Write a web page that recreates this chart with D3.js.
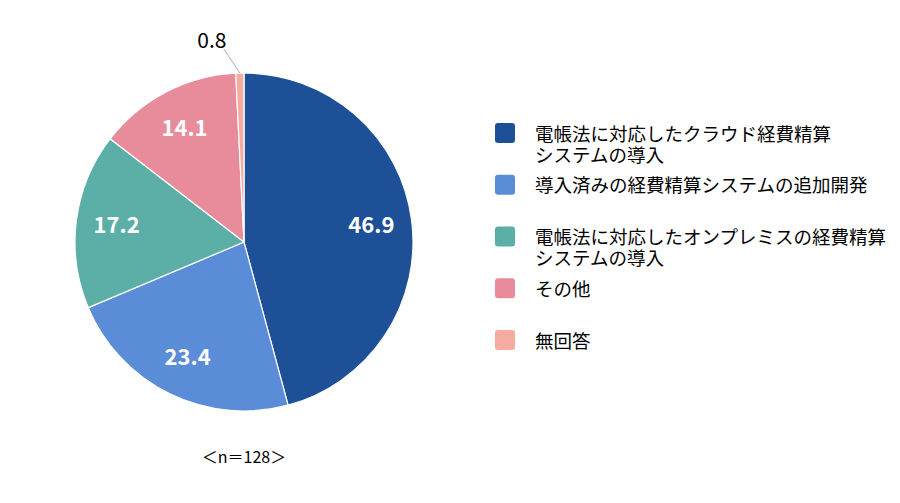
<!DOCTYPE html>
<html>
<head>
<meta charset="utf-8">
<script src="https://cdn.jsdelivr.net/npm/d3@7"></script>
<style>
	body { margin: 0; background: #fff; }
	text { font-family: "Noto Sans CJK JP", "Noto Sans", sans-serif; }
</style>
</head>
<body>
<svg width="900" height="503"></svg>
<script>
// answers (%), n=128
var categories = [
	['電帳法に対応したクラウド経費精算', 'システムの導入'],
	['導入済みの経費精算システムの追加開発'],
	['電帳法に対応したオンプレミスの経費精算', 'システムの導入'],
	['その他'],
	['無回答']
];
var values = [46.9, 23.4, 17.2, 14.1, 0.8];
var colors = ['#1d5097', '#5b8cd8', '#5bafa6', '#e88c9b', '#f6aba1'];
var note = '＜n＝128＞';

var svg = d3.select('svg');
var cx = 244, cy = 242, radius = 169;

var pie = d3.pie().sort(null).value(d => d);
var arc = d3.arc().innerRadius(0).outerRadius(radius);
var labelArc = d3.arc().innerRadius(radius * 0.76).outerRadius(radius * 0.76);
var edgeArc = d3.arc().innerRadius(radius).outerRadius(radius);

var slices = pie(values);
var g = svg.append('g').attr('transform', 'translate(' + cx + ',' + cy + ')');

g.selectAll('path.slice')
	.data(slices)
	.enter().append('path')
	.attr('class', 'slice')
	.attr('d', arc)
	.style('fill', (d, i) => colors[i])
	.style('stroke', '#fff')
	.style('stroke-width', 1.2);

// labels inside the bigger slices
g.selectAll('text.inlabel')
	.data(slices.filter(d => d.value > 5))
	.enter().append('text')
	.attr('class', 'inlabel')
	.attr('transform', d => 'translate(' + labelArc.centroid(d) + ')')
	.attr('text-anchor', 'middle')
	.attr('dy', '0.36em')
	.style('fill', '#fff')
	.style('font-weight', 'bold')
	.style('font-size', '22px')
	.text(d => d.value.toFixed(1));

// tiny slice gets an outside label with a leader line
var small = slices.filter(d => d.value <= 5);
small.forEach(function(d){
	var p = edgeArc.centroid(d);
	var q = [p[0] - 16, p[1] - 24];
	g.append('line')
		.attr('x1', p[0]).attr('y1', p[1])
		.attr('x2', q[0]).attr('y2', q[1])
		.style('stroke', '#999')
		.style('stroke-width', 0.8);
	g.append('text')
		.attr('x', q[0] - 12).attr('y', q[1] - 1)
		.attr('text-anchor', 'middle')
		.style('fill', '#000')
		.style('font-size', '21px')
		.text(d.value.toFixed(1));
});

// legend
var legendY = d3.scalePoint().domain(d3.range(categories.length)).range([133, 340]);
var legend = svg.append('g');
var item = legend.selectAll('g.item')
	.data(categories)
	.enter().append('g')
	.attr('class', 'item')
	.attr('transform', (d, i) => 'translate(495,' + legendY(i) + ')');

item.append('rect')
	.attr('x', 0).attr('y', -10)
	.attr('width', 20).attr('height', 20)
	.attr('rx', 3)
	.style('fill', (d, i) => colors[i]);

item.append('text')
	.attr('x', 40)
	.style('font-size', '18.5px')
	.style('fill', '#000')
	.selectAll('tspan')
	.data(d => d)
	.enter().append('tspan')
	.attr('x', 40)
	.attr('y', (d, i) => 1 + i * 21)
	.attr('dy', '0.36em')
	.text(d => d);

svg.append('text')
	.attr('x', cx).attr('y', 457)
	.attr('dy', '0.36em')
	.attr('text-anchor', 'middle')
	.style('font-size', '16px')
	.style('fill', '#000')
	.text(note);
</script>
</body>
</html>
